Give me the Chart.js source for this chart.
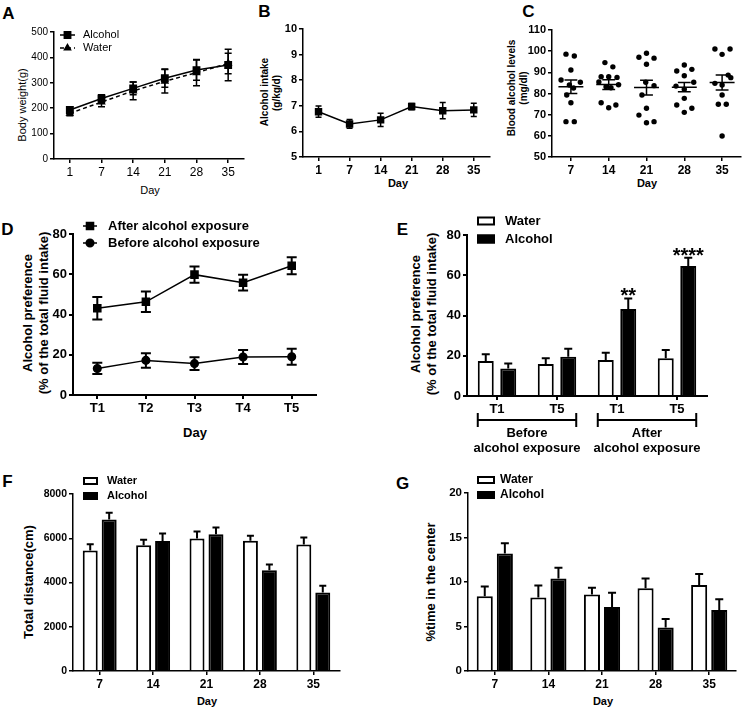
<!DOCTYPE html>
<html>
<head>
<meta charset="utf-8">
<title>Alcohol exposure figure</title>
<script src="https://cdn.jsdelivr.net/npm/chart.js@4.4.1/dist/chart.umd.min.js"></script>
<style>
  html, body { margin: 0; padding: 0; background: #fff; }
  body { position: relative; width: 745px; height: 709px; overflow: hidden; font-family: Arial, "Liberation Sans", sans-serif; color: #000; }
  canvas { position: absolute; }
  .t { position: absolute; white-space: nowrap; line-height: 1; font-weight: bold; transform: translate(-50%, -50%); }
  .r { transform: translate(-50%, -50%) rotate(-90deg); }
  .n { font-weight: normal; }
</style>
</head>
<body>
<!-- panel letters -->
<div class="t" style="left:8.5px;top:12.5px;font-size:17px">A</div>
<div class="t" style="left:264.5px;top:11px;font-size:17px">B</div>
<div class="t" style="left:528.5px;top:11px;font-size:17px">C</div>
<div class="t" style="left:7.5px;top:228.5px;font-size:17px">D</div>
<div class="t" style="left:402.5px;top:228.5px;font-size:17px">E</div>
<div class="t" style="left:7.5px;top:481px;font-size:17px">F</div>
<div class="t" style="left:402.5px;top:482.5px;font-size:17px">G</div>

<!-- axis titles -->
<div class="t r n" style="left:22px;top:105px;font-size:11px">Body weight(g)</div>
<div class="t n" style="left:150px;top:190px;font-size:11px">Day</div>

<div class="t r" style="left:265px;top:92px;font-size:10px">Alcohol intake</div>
<div class="t r" style="left:277px;top:93px;font-size:10px">(g/kg/d)</div>
<div class="t" style="left:398px;top:183px;font-size:11px">Day</div>

<div class="t r" style="left:512px;top:88px;font-size:10px">Blood alcohol levels</div>
<div class="t r" style="left:524px;top:88px;font-size:10px">(mg/dl)</div>
<div class="t" style="left:647px;top:183px;font-size:11px">Day</div>

<div class="t r" style="left:27px;top:313px;font-size:13px">Alcohol preference</div>
<div class="t r" style="left:43px;top:313px;font-size:13px">(% of the total fluid intake)</div>
<div class="t" style="left:195px;top:432px;font-size:13px">Day</div>

<div class="t r" style="left:415px;top:314px;font-size:13px">Alcohol preference</div>
<div class="t r" style="left:431px;top:314px;font-size:13px">(% of the total fluid intake)</div>

<div class="t r" style="left:28px;top:582px;font-size:13px">Total distance(cm)</div>
<div class="t" style="left:207px;top:701px;font-size:11px">Day</div>

<div class="t r" style="left:430px;top:582px;font-size:13px">%time in the center</div>
<div class="t" style="left:603px;top:701px;font-size:11px">Day</div>

<script>
const FONT = 'Arial, "Liberation Sans", sans-serif';
Chart.defaults.font.family = FONT;
Chart.defaults.color = '#000';
Chart.defaults.plugins.legend.display = false;
Chart.defaults.plugins.tooltip.enabled = false;
Chart.defaults.animation = false;
Chart.defaults.responsive = false;

// ---- A: body weight ----
const daysA = ['1', '7', '14', '21', '28', '35'];
const weightAlcohol = [193, 238, 278, 318, 350, 370];
const weightAlcoholSem = [12, 15, 25, 36, 40, 62];
const weightWater = [180, 224, 268, 306, 340, 376];
const weightWaterSem = [10, 18, 35, 46, 52, 40];

// ---- B: alcohol intake ----
const intake = [6.77, 6.29, 6.45, 6.97, 6.81, 6.84];
const intakeSem = [0.22, 0.17, 0.26, 0.12, 0.32, 0.26];

// ---- C: blood alcohol levels (dots + spread around each day) ----
const daysC = ['7', '14', '21', '28', '35'];
const bac7 = [98.6, 97.7, 91.1, 86.4, 85.3, 84.0, 82.6, 79.3, 75.6, 66.7, 66.7];
const bac7Spread = [-0.13, 0.09, 0, -0.26, 0.25, -0.04, 0.07, -0.11, 0, -0.13, 0.09];
const bac14 = [94.6, 92.6, 87.9, 87.9, 87.6, 85.4, 84.1, 83.2, 82.7, 75.6, 74.6, 73.3];
const bac14Spread = [-0.1, 0.11, -0.2, 0, 0.22, -0.26, 0.26, -0.07, 0.06, -0.2, 0.19, 0];
const bac21 = [99.0, 97.1, 96.7, 93.8, 85.3, 83.7, 79.3, 73.0, 69.8, 66.2, 66.7];
const bac21Spread = [0, -0.2, 0.2, 0, -0.02, 0.2, -0.12, 0, -0.2, 0, 0.2];
const bac28 = [93.5, 91.4, 90.6, 88.4, 85.3, 83.5, 82.0, 77.7, 74.6, 73.0, 71.1];
const bac28Spread = [0, 0.2, -0.2, 0, 0.25, -0.22, 0, 0, -0.2, 0.2, 0];
const bac35 = [101.0, 101.0, 98.5, 88.7, 87.5, 84.8, 84.0, 79.3, 74.9, 74.9, 59.9];
const bac35Spread = [-0.19, 0.21, 0, 0.16, 0.23, -0.19, 0, 0, -0.1, 0.11, 0];
const bacMean = [83.2, 84.2, 82.8, 83.0, 85.2];
const bacSem = [3.2, 2.3, 3.5, 2.2, 3.5];

// ---- D: preference over trials ----
const trials = ['T1', 'T2', 'T3', 'T4', 'T5'];
const prefAfter = [43.1, 46.3, 59.8, 55.8, 64.2];
const prefAfterSem = [5.6, 5.1, 4.0, 3.9, 4.2];
const prefBefore = [13.2, 17.2, 15.6, 18.9, 19.0];
const prefBeforeSem = [2.8, 3.6, 3.2, 3.5, 4.0];

// ---- E: water vs alcohol preference ----
const trialsE = ['T1', 'T5', 'T1', 'T5'];
const exposureGroups = [['Before', 'alcohol exposure'], ['After', 'alcohol exposure']];
const prefWaterE = [17.4, 15.9, 17.9, 18.7];
const prefWaterESem = [3.3, 2.8, 3.6, 4.1];
const prefAlcoholE = [13.7, 19.5, 43.2, 64.6];
const prefAlcoholESem = [2.5, 4.0, 5.3, 4.1];
const starsE = ['', '', '**', '****'];

// ---- F: total distance ----
const daysF = ['7', '14', '21', '28', '35'];
const distWater = [5450, 5680, 5990, 5890, 5720];
const distWaterSem = [280, 250, 320, 220, 310];
const distAlcohol = [6850, 5880, 6180, 4550, 3550];
const distAlcoholSem = [300, 340, 310, 260, 300];

// ---- G: time in center ----
const centerWater = [8.4, 8.25, 8.6, 9.3, 9.65];
const centerWaterSem = [1.1, 1.35, 0.75, 1.1, 1.25];
const centerAlcohol = [13.2, 10.4, 7.2, 4.9, 6.85];
const centerAlcoholSem = [1.15, 1.2, 1.6, 0.95, 1.2];

function addCanvas(left, top, w, h) {
  const c = document.createElement('canvas');
  c.width = w; c.height = h;
  c.style.left = left + 'px'; c.style.top = top + 'px';
  c.style.width = w + 'px'; c.style.height = h + 'px';
  document.body.appendChild(c);
  return c;
}

function yAxis(o) {
  return {
    min: o.min, max: o.max,
    afterFit: s => { s.width = o.width; },
    border: { color: '#000', width: o.line },
    grid: { drawOnChartArea: false, color: '#000', lineWidth: o.line, tickLength: 4 },
    ticks: { stepSize: o.step, padding: 2, color: '#000', font: { size: o.size, weight: o.weight || 'bold' },
             callback: v => String(v) }
  };
}

function xAxis(o) {
  return {
    type: 'category', offset: true,
    afterFit: s => { s.height = o.height; },
    border: { color: '#000', width: o.line },
    grid: { offset: false, drawOnChartArea: false, color: '#000', lineWidth: o.line, tickLength: 4 },
    ticks: { padding: 2, autoSkip: false, maxRotation: 0, color: '#000', font: { size: o.size, weight: o.weight || 'bold' } }
  };
}

// error bars from dataset.errors
const errorBars = {
  id: 'errorBars',
  afterDatasetsDraw(chart) {
    const ctx = chart.ctx;
    const ys = chart.scales.y;
    chart.data.datasets.forEach((ds, i) => {
      if (!ds.errors) return;
      const meta = chart.getDatasetMeta(i);
      ctx.save();
      ctx.strokeStyle = '#000';
      ctx.lineWidth = ds.errorWidth || 1.5;
      meta.data.forEach((el, j) => {
        const v = ds.data[j];
        const e = ds.errors[j];
        const top = ys.getPixelForValue(v + e);
        const bot = ds.errorUpOnly ? el.y : ys.getPixelForValue(v - e);
        const cap = ds.errorCap || 3.5;
        ctx.beginPath();
        ctx.moveTo(el.x, top); ctx.lineTo(el.x, bot);
        ctx.moveTo(el.x - cap, top); ctx.lineTo(el.x + cap, top);
        if (!ds.errorUpOnly) { ctx.moveTo(el.x - cap, bot); ctx.lineTo(el.x + cap, bot); }
        ctx.stroke();
      });
      ctx.restore();
    });
  }
};

// small legend drawn at a fixed spot
const keyPlugin = {
  id: 'key',
  afterDraw(chart, args, o) {
    if (!o || !o.kind) return;
    const ctx = chart.ctx;
    ctx.save();
    ctx.font = (o.weight || 'bold') + ' ' + o.size + 'px ' + FONT;
    ctx.textBaseline = 'middle';
    ctx.textAlign = 'left';
    chart.data.datasets.forEach((ds, i) => {
      const y = o.y + i * o.gap;
      ctx.strokeStyle = '#000';
      if (o.kind === 'box') {
        ctx.fillStyle = ds.backgroundColor;
        ctx.fillRect(o.x, y - o.h / 2, o.w, o.h);
        ctx.lineWidth = 2;
        ctx.strokeRect(o.x + 1, y - o.h / 2 + 1, o.w - 2, o.h - 2);
      } else {
        ctx.lineWidth = ds.borderWidth;
        ctx.setLineDash(ds.borderDash || []);
        ctx.beginPath(); ctx.moveTo(o.x, y); ctx.lineTo(o.x + o.w, y); ctx.stroke();
        ctx.setLineDash([]);
        ctx.fillStyle = '#000';
        Chart.helpers.drawPoint(ctx, { pointStyle: ds.pointStyle, rotation: 0, radius: ds.pointRadius, borderWidth: 1 }, o.x + o.w / 2, y);
      }
      ctx.fillStyle = '#000';
      ctx.fillText(ds.label, o.textX, y);
    });
    ctx.restore();
  }
};

// mean line + SEM for the dot plot
const meanSem = {
  id: 'meanSem',
  afterDatasetsDraw(chart, args, o) {
    if (!o.means) return;
    const xs = chart.scales.x, ys = chart.scales.y, ctx = chart.ctx;
    ctx.save();
    ctx.strokeStyle = '#000';
    ctx.lineWidth = 1.5;
    o.means.forEach((m, i) => {
      const c = i + 1;
      const ym = ys.getPixelForValue(m);
      const yt = ys.getPixelForValue(m + o.sems[i]);
      const yb = ys.getPixelForValue(m - o.sems[i]);
      ctx.beginPath();
      ctx.moveTo(xs.getPixelForValue(c - o.half), ym); ctx.lineTo(xs.getPixelForValue(c + o.half), ym);
      ctx.moveTo(xs.getPixelForValue(c), yt); ctx.lineTo(xs.getPixelForValue(c), yb);
      ctx.moveTo(xs.getPixelForValue(c - o.cap), yt); ctx.lineTo(xs.getPixelForValue(c + o.cap), yt);
      ctx.moveTo(xs.getPixelForValue(c - o.cap), yb); ctx.lineTo(xs.getPixelForValue(c + o.cap), yb);
      ctx.stroke();
    });
    ctx.restore();
  }
};

// stars and group brackets for panel E
const groupBrackets = {
  id: 'groupBrackets',
  afterDraw(chart, args, o) {
    if (!o.groups) return;
    const ctx = chart.ctx;
    const water = chart.getDatasetMeta(0).data;
    const alc = chart.getDatasetMeta(1).data;
    const ds = chart.data.datasets[1];
    const ys = chart.scales.y;
    const by = chart.chartArea.bottom + o.offset;
    ctx.save();
    ctx.fillStyle = '#000';
    ctx.strokeStyle = '#000';
    ctx.textAlign = 'center';
    ctx.font = 'bold 20px ' + FONT;
    ctx.textBaseline = 'alphabetic';
    o.stars.forEach((s, i) => {
      if (!s) return;
      ctx.fillText(s, alc[i].x, ys.getPixelForValue(ds.data[i] + ds.errors[i]) + 4);
    });
    ctx.font = 'bold 13px ' + FONT;
    ctx.textBaseline = 'middle';
    o.groups.forEach((g, k) => {
      const a = water[k * 2], b = alc[k * 2 + 1];
      const x1 = a.x - a.width / 2, x2 = b.x + b.width / 2;
      ctx.lineWidth = 2;
      ctx.beginPath();
      ctx.moveTo(x1, by); ctx.lineTo(x2, by);
      ctx.moveTo(x1, by - 7); ctx.lineTo(x1, by + 7);
      ctx.moveTo(x2, by - 7); ctx.lineTo(x2, by + 7);
      ctx.stroke();
      g.forEach((line, j) => ctx.fillText(line, (x1 + x2) / 2, by + 13 + j * 15));
    });
    ctx.restore();
  }
};

// ---- A ----
new Chart(addCanvas(0, 0, 250, 200), {
  type: 'line',
  data: {
    labels: daysA,
    datasets: [
      { label: 'Alcohol', data: weightAlcohol, errors: weightAlcoholSem, errorCap: 3.5,
        borderColor: '#000', borderWidth: 1.5, pointStyle: 'rect', pointRadius: 4.5,
        pointBackgroundColor: '#000', pointBorderColor: '#000' },
      { label: 'Water', data: weightWater, errors: weightWaterSem, errorCap: 3.5,
        borderColor: '#000', borderWidth: 1.5, borderDash: [4, 3], pointStyle: 'triangle', pointRadius: 3.5,
        pointBackgroundColor: '#000', pointBorderColor: '#000' }
    ]
  },
  options: {
    layout: { padding: { top: 32, right: 5, left: 0, bottom: 0 } },
    scales: {
      x: xAxis({ height: 41, size: 12, weight: 'normal', line: 1.5 }),
      y: yAxis({ min: 0, max: 500, step: 100, width: 54, size: 10, weight: 'normal', line: 1.5 })
    },
    plugins: { key: { kind: 'line', x: 60, y: 35, gap: 13, w: 15, textX: 83, size: 11, weight: 'normal' } }
  },
  plugins: [errorBars, keyPlugin]
});

// ---- B ----
new Chart(addCanvas(250, 0, 245, 200), {
  type: 'line',
  data: {
    labels: daysA,
    datasets: [
      { label: 'Alcohol intake', data: intake, errors: intakeSem, errorCap: 3,
        borderColor: '#000', borderWidth: 1.5, pointStyle: 'rect', pointRadius: 4.2,
        pointBackgroundColor: '#000', pointBorderColor: '#000' }
    ]
  },
  options: {
    layout: { padding: { top: 29, right: 2, left: 0, bottom: 0 } },
    scales: {
      x: xAxis({ height: 43, size: 12, line: 1.5 }),
      y: yAxis({ min: 5, max: 10, step: 1, width: 53, size: 11, line: 1.5 })
    }
  },
  plugins: [errorBars]
});

// ---- C ----
const bacGroups = [bac7, bac14, bac21, bac28, bac35];
const bacSpreads = [bac7Spread, bac14Spread, bac21Spread, bac28Spread, bac35Spread];
const bacPoints = bacGroups.flatMap((vals, i) => vals.map((v, j) => ({ x: i + 1 + bacSpreads[i][j], y: v })));

new Chart(addCanvas(495, 0, 250, 200), {
  type: 'scatter',
  data: {
    datasets: [
      { label: 'Blood alcohol', data: bacPoints, pointRadius: 2.7,
        pointBackgroundColor: '#000', pointBorderColor: '#000', pointBorderWidth: 0 }
    ]
  },
  options: {
    layout: { padding: { top: 30, right: 2, left: 0, bottom: 0 } },
    scales: {
      x: {
        type: 'linear', min: 0.5, max: 5.5,
        afterFit: s => { s.height = 43; },
        afterBuildTicks: s => { s.ticks = daysC.map((d, i) => ({ value: i + 1 })); },
        border: { color: '#000', width: 1.5 },
        grid: { drawOnChartArea: false, color: '#000', lineWidth: 1.5, tickLength: 4 },
        ticks: { padding: 2, color: '#000', font: { size: 12, weight: 'bold' },
                 callback: v => daysC[Math.round(v) - 1] }
      },
      y: yAxis({ min: 50, max: 110, step: 10, width: 57, size: 11, line: 1.5 })
    },
    plugins: { meanSem: { means: bacMean, sems: bacSem, half: 0.33, cap: 0.17 } }
  },
  plugins: [meanSem]
});

// ---- D ----
new Chart(addCanvas(0, 200, 340, 260), {
  type: 'line',
  data: {
    labels: trials,
    datasets: [
      { label: 'After alcohol exposure', data: prefAfter, errors: prefAfterSem, errorCap: 5, errorWidth: 2,
        borderColor: '#000', borderWidth: 1.5, pointStyle: 'rect', pointRadius: 5,
        pointBackgroundColor: '#000', pointBorderColor: '#000' },
      { label: 'Before alcohol exposure', data: prefBefore, errors: prefBeforeSem, errorCap: 5, errorWidth: 2,
        borderColor: '#000', borderWidth: 1.5, pointStyle: 'circle', pointRadius: 3.8,
        pointBackgroundColor: '#000', pointBorderColor: '#000' }
    ]
  },
  options: {
    layout: { padding: { top: 34, right: 24, left: 0, bottom: 0 } },
    scales: {
      x: xAxis({ height: 65, size: 13, line: 2 }),
      y: yAxis({ min: 0, max: 80, step: 20, width: 73, size: 13, line: 2 })
    },
    plugins: { key: { kind: 'line', x: 83, y: 26, gap: 17, w: 14, textX: 108, size: 13 } }
  },
  plugins: [errorBars, keyPlugin]
});

// ---- E ----
new Chart(addCanvas(370, 200, 375, 260), {
  type: 'bar',
  data: {
    labels: trialsE,
    datasets: [
      { label: 'Water', data: prefWaterE, errors: prefWaterESem, errorUpOnly: true, errorCap: 4, errorWidth: 2,
        backgroundColor: '#fff', borderColor: '#000', borderWidth: 2 },
      { label: 'Alcohol', data: prefAlcoholE, errors: prefAlcoholESem, errorUpOnly: true, errorCap: 4, errorWidth: 2,
        backgroundColor: '#000', borderColor: '#000', borderWidth: 2 }
    ]
  },
  options: {
    categoryPercentage: 0.75,
    barPercentage: 0.71,
    layout: { padding: { top: 35, right: 38, left: 0, bottom: 0 } },
    scales: {
      x: xAxis({ height: 64, size: 13, line: 2 }),
      y: yAxis({ min: 0, max: 80, step: 20, width: 97, size: 13, line: 2 })
    },
    plugins: {
      key: { kind: 'box', x: 107, y: 21, gap: 18, w: 18, h: 9, textX: 135, size: 13 },
      groupBrackets: { groups: exposureGroups, stars: starsE, offset: 24 }
    }
  },
  plugins: [errorBars, keyPlugin, groupBrackets]
});

// ---- F ----
new Chart(addCanvas(0, 470, 360, 239), {
  type: 'bar',
  data: {
    labels: daysF,
    datasets: [
      { label: 'Water', data: distWater, errors: distWaterSem, errorUpOnly: true, errorCap: 3.5, errorWidth: 2,
        backgroundColor: '#fff', borderColor: '#000', borderWidth: 2 },
      { label: 'Alcohol', data: distAlcohol, errors: distAlcoholSem, errorUpOnly: true, errorCap: 3.5, errorWidth: 2,
        backgroundColor: '#000', borderColor: '#000', borderWidth: 2 }
    ]
  },
  options: {
    categoryPercentage: 0.71,
    barPercentage: 0.79,
    layout: { padding: { top: 24, right: 20, left: 0, bottom: 0 } },
    scales: {
      x: xAxis({ height: 38, size: 12, line: 1.5 }),
      y: yAxis({ min: 0, max: 8000, step: 2000, width: 73, size: 10.5, line: 1.5 })
    },
    plugins: { key: { kind: 'box', x: 83, y: 11, gap: 15, w: 15, h: 8, textX: 107, size: 11 } }
  },
  plugins: [errorBars, keyPlugin]
});

// ---- G ----
new Chart(addCanvas(370, 470, 375, 239), {
  type: 'bar',
  data: {
    labels: daysF,
    datasets: [
      { label: 'Water', data: centerWater, errors: centerWaterSem, errorUpOnly: true, errorCap: 4, errorWidth: 2,
        backgroundColor: '#fff', borderColor: '#000', borderWidth: 2 },
      { label: 'Alcohol', data: centerAlcohol, errors: centerAlcoholSem, errorUpOnly: true, errorCap: 4, errorWidth: 2,
        backgroundColor: '#000', borderColor: '#000', borderWidth: 2 }
    ]
  },
  options: {
    categoryPercentage: 0.75,
    barPercentage: 0.8,
    layout: { padding: { top: 23, right: 9, left: 0, bottom: 0 } },
    scales: {
      x: xAxis({ height: 38, size: 12, line: 1.5 }),
      y: yAxis({ min: 0, max: 20, step: 5, width: 98, size: 11.5, line: 1.5 })
    },
    plugins: { key: { kind: 'box', x: 107, y: 10, gap: 15, w: 18, h: 8, textX: 130, size: 12 } }
  },
  plugins: [errorBars, keyPlugin]
});
</script>
</body>
</html>
